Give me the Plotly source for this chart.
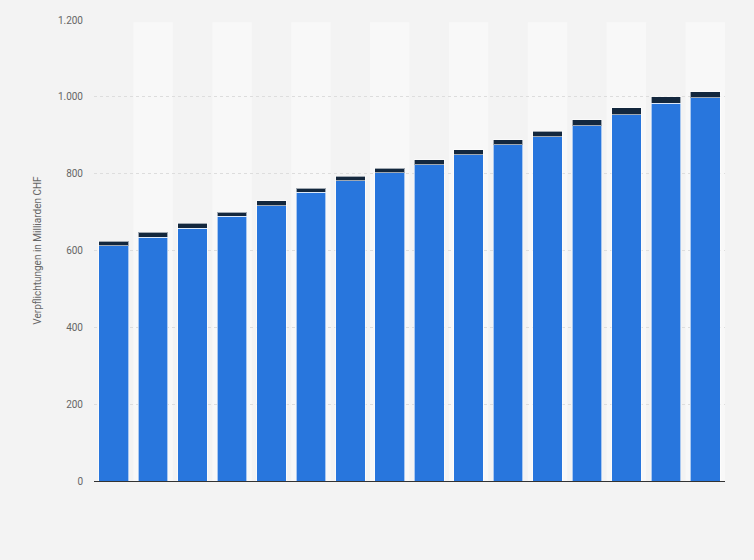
import plotly.graph_objects as go

# Kategorien (Beschriftungen sind im Original ausgeblendet)
kategorien = [str(j) for j in range(2005, 2021)]

# Werte in Milliarden CHF, aus der Grafik geschätzt
hauptwert = [612, 634, 658, 689, 716, 751, 781, 802, 823, 849, 875, 896, 925, 954, 983, 998]
zusatzwert = [12, 13, 13, 11, 13, 11, 12, 12, 13, 13, 13, 15, 15, 17, 17, 15]

y_ticks = [0, 200, 400, 600, 800, 1000, 1200]

fig = go.Figure()

fig.add_trace(go.Bar(
    x=kategorien, y=hauptwert, name="Teil 1",
    marker=dict(color="#2876dd", line=dict(color="rgba(255,255,255,0.6)", width=1)),
))
fig.add_trace(go.Bar(
    x=kategorien, y=zusatzwert, name="Teil 2",
    marker=dict(color="#13273d", line=dict(color="rgba(255,255,255,0.6)", width=1)),
))

# abwechselnde Spaltenhintergründe
for i in range(len(kategorien)):
    if i % 2 == 1:
        fig.add_shape(type="rect", xref="x", yref="paper",
                      x0=i - 0.5, x1=i + 0.5, y0=0, y1=0.995,
                      fillcolor="#f8f8f8", line_width=0, layer="below")

fig.update_layout(
    width=754, height=560,
    barmode="stack", bargap=0.25,
    showlegend=False,
    paper_bgcolor="#f3f3f3", plot_bgcolor="#f3f3f3",
    margin=dict(l=94, r=29, t=20, b=79),
    separators=",.",
    font=dict(family="Roboto, Arial, sans-serif", size=11, color="#666666"),
)
fig.update_xaxes(
    showticklabels=False, showgrid=False,
    showline=True, linecolor="#333333", linewidth=1,
    range=[-0.5, len(kategorien) - 0.5],
)
fig.update_yaxes(
    range=[0, 1200], tickvals=y_ticks, tickformat=",d",
    showgrid=True, gridcolor="#dddddd", griddash="dot", gridwidth=1,
    zeroline=False, showline=False,
    ticks="outside", ticklen=8, tickcolor="rgba(0,0,0,0)",
    tickfont=dict(size=10, color="#666666"),
    title=dict(text="Verpflichtungen in Milliarden CHF", font=dict(size=10, color="#666666"), standoff=14),
)

fig.write_html("out.html", config={"displayModeBar": False},
               post_script="document.body.style.margin='0px';")
